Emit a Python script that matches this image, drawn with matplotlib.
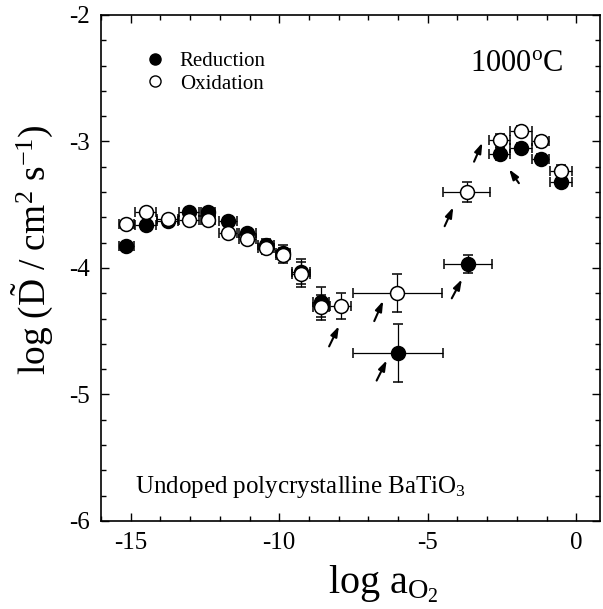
import matplotlib
matplotlib.use("Agg")
import matplotlib.pyplot as plt
from matplotlib.lines import Line2D
from matplotlib.ticker import MultipleLocator

plt.rcParams['font.family'] = ['Liberation Serif', 'DejaVu Serif']
plt.rcParams['mathtext.fontset'] = 'custom'
plt.rcParams['mathtext.rm'] = 'Liberation Serif'
plt.rcParams['mathtext.it'] = 'Liberation Serif:italic'
plt.rcParams['axes.unicode_minus'] = False

# reduction runs (filled symbols)
red_x = [-15.15, -14.50, -13.75, -13.04, -12.40, -11.72, -11.07, -10.45, -9.87,
         -9.28, -8.60, -6.00, -3.64, -2.58, -1.87, -1.20, -0.50]
red_y = [-3.83, -3.66, -3.63, -3.56, -3.56, -3.63, -3.72, -3.82, -3.88,
         -4.03, -4.27, -4.67, -3.97, -3.10, -3.05, -3.14, -3.32]
red_xerr = [0.25, 0.35, 0.35, 0.35, 0.25, 0.30, 0.28, 0.28, 0.25,
            0.30, 0.27, 1.50, 0.80, 0.34, 0.37, 0.30, 0.37]
red_yerr = [0.03, 0.03, 0.03, 0.03, 0.03, 0.03, 0.03, 0.05, 0.06,
            0.10, 0.12, 0.23, 0.07, 0.05, 0.04, 0.04, 0.04]

# oxidation runs (open symbols)
ox_x = [-15.15, -14.50, -13.75, -13.04, -12.40, -11.72, -11.07, -10.45, -9.87,
        -9.28, -8.60, -7.93, -6.02, -3.69, -2.58, -1.87, -1.20, -0.50]
ox_y = [-3.65, -3.56, -3.61, -3.62, -3.62, -3.72, -3.77, -3.84, -3.90,
        -4.05, -4.31, -4.30, -4.20, -3.40, -2.99, -2.92, -3.00, -3.23]
ox_xerr = [0.25, 0.35, 0.35, 0.35, 0.25, 0.30, 0.28, 0.28, 0.25,
           0.30, 0.27, 0.35, 1.50, 0.80, 0.34, 0.37, 0.30, 0.37]
ox_yerr = [0.03, 0.03, 0.03, 0.03, 0.03, 0.03, 0.03, 0.05, 0.06,
           0.10, 0.10, 0.10, 0.15, 0.08, 0.05, 0.04, 0.04, 0.04]

# arrows marking the points after a change of atmosphere (tail -> head)
arrow_tail = [(-8.32, -4.62), (-6.80, -4.42), (-6.72, -4.89), (-4.19, -4.24),
              (-4.43, -3.67), (-3.44, -3.16), (-1.93, -3.33)]
arrow_head = [(-7.99, -4.46), (-6.50, -4.26), (-6.38, -4.73), (-3.85, -4.09),
              (-4.14, -3.52), (-3.16, -3.01), (-2.26, -3.22)]

fig = plt.figure(figsize=(6.03, 6.09), dpi=100)
ax = fig.add_axes([0.1675, 0.1445, 0.8275, 0.831])

eb = dict(ecolor='black', elinewidth=0.9, capsize=3.5, capthick=0.9, ls='none',
          marker='o', ms=10, mec='black', mew=1.1)
ax.errorbar(red_x, red_y, xerr=red_xerr, yerr=red_yerr, mfc='black', zorder=3, **eb)
ax.errorbar(ox_x, ox_y, xerr=ox_xerr, yerr=ox_yerr, mfc='white', zorder=4, **eb)

for t, h in zip(arrow_tail, arrow_head):
    ax.annotate('', xy=h, xytext=t,
                arrowprops=dict(arrowstyle='-|>,head_length=0.6,head_width=0.2',
                                color='black', lw=1.5, shrinkA=0, shrinkB=0))

ax.set_xlim(-16, 0.8)
ax.set_ylim(-6, -2)
ax.xaxis.set_major_locator(MultipleLocator(5))
ax.xaxis.set_minor_locator(MultipleLocator(1))
ax.yaxis.set_major_locator(MultipleLocator(1))
ax.yaxis.set_minor_locator(MultipleLocator(0.2))
ax.tick_params(which='both', direction='in', top=True, right=True, width=1.0)
ax.tick_params(which='major', length=6, labelsize=18, pad=8)
ax.tick_params(which='minor', length=3.5)
for s in ax.spines.values():
    s.set_linewidth(1.2)

ax.set_xlabel(r'$\mathrm{log\ a}_{\mathrm{O}_2}$', fontsize=29)
ax.xaxis.set_label_coords(0.566, -0.083)
ax.set_ylabel(r'$\mathrm{log\ (\tilde{D}\ /\ cm^{2}\ s^{-1})}$', fontsize=27)
ax.yaxis.set_label_coords(-0.092, 0.536)

handles = [Line2D([], [], ls='none', marker='o', ms=8, mfc='black', mec='black'),
           Line2D([], [], ls='none', marker='o', ms=8, mfc='white', mec='black')]
ax.legend(handles, ['Reduction', 'Oxidation'], loc='upper left',
          bbox_to_anchor=(0.045, 0.965), frameon=False, fontsize=15,
          handletextpad=0.6, labelspacing=0.15, handlelength=1.2)

ax.text(0.74, 0.904, r'1000$^{\mathrm{o}}$C', transform=ax.transAxes,
        fontsize=22, ha='left', va='center')
ax.text(0.068, 0.055, r'Undoped polycrystalline BaTiO$_3$', transform=ax.transAxes,
        fontsize=18, ha='left', va='baseline')

fig.savefig('out.png', dpi=100)
